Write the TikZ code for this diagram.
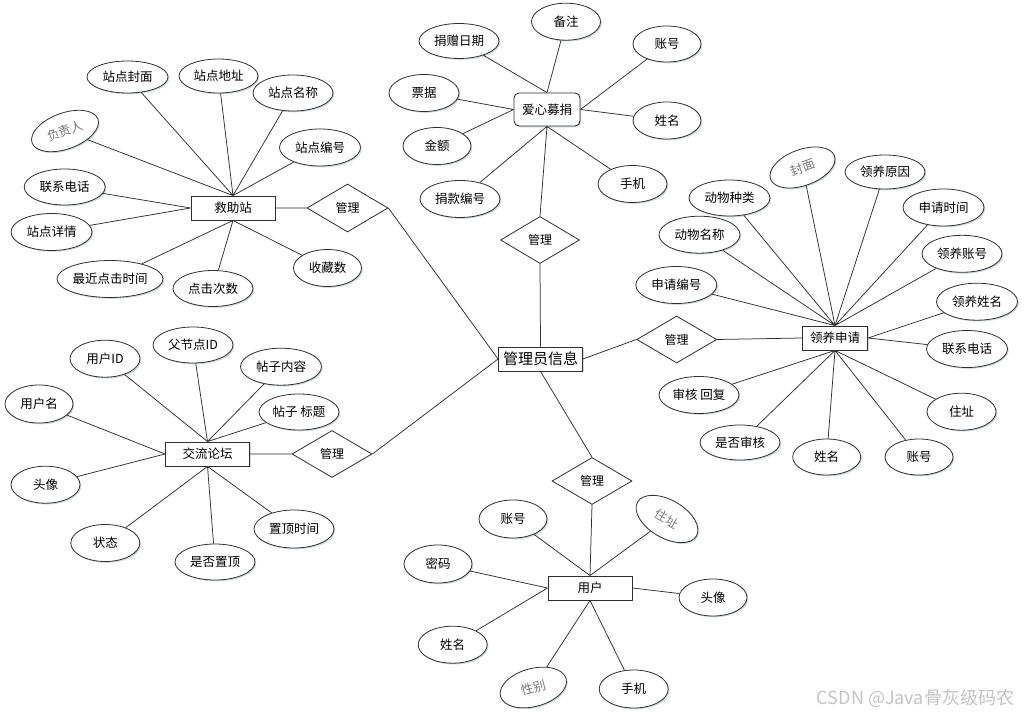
\documentclass[tikz,border=0pt]{standalone}
\usepackage{fontspec}
\setmainfont{Noto Sans CJK SC}
\usetikzlibrary{shapes.geometric,shadows}
\definecolor{edgec}{HTML}{303030}
\definecolor{shc}{HTML}{9AA8B8}
\definecolor{graytxt}{HTML}{7A7A7A}
\definecolor{wmark}{HTML}{C4C4C4}
\tikzset{
  shd/.style={drop shadow={shadow xshift=1.3pt,shadow yshift=-1.3pt,fill=shc,opacity=0.45}},
  attr/.style={ellipse,draw=edgec,line width=0.8pt,fill=white,inner sep=0pt,shd,
    minimum width=80pt,minimum height=36pt,font=\fontsize{12.5}{14}\selectfont},
  sm/.style={minimum width=68pt,minimum height=37pt},
  tilted/.style={text=graytxt},
  ent/.style={rectangle,draw=edgec,line width=0.9pt,fill=white,inner sep=0pt,shd,
    minimum width=84pt,minimum height=24pt,font=\fontsize{12.5}{14}\selectfont},
  rel/.style={diamond,draw=edgec,line width=0.8pt,fill=white,inner sep=0pt,
    minimum width=80pt,minimum height=47pt,font=\fontsize{12}{14}\selectfont},
  link/.style={draw=edgec,line width=0.75pt}
}
\begin{document}
\begin{tikzpicture}[x=1pt,y=-1pt]
\useasboundingbox[fill=white] (0,0) rectangle (1025,717);

% ---------- entities ----------
\node[ent] (jz) at (233,208) {救助站};
\node[ent,minimum width=66pt,minimum height=33pt,rounded corners=5pt] (ax) at (547,109.5) {爱心募捐};
\node[ent,minimum width=65pt] (ly) at (835,338) {领养申请};
\node[ent] (jl) at (207.5,454) {交流论坛};
\node[ent,font=\fontsize{15}{17}\selectfont] (gl) at (540.5,359) {管理员信息};
\node[ent] (yh) at (590,588) {用户};

% ---------- relations ----------
\node[rel,minimum width=81pt,minimum height=48pt] (r1) at (347.5,208) {管理};
\node[rel,minimum width=79pt] (r2) at (540,240) {管理};
\node[rel] (r3) at (676.7,339.5) {管理};
\node[rel] (r4) at (332,454) {管理};
\node[rel] (r5) at (592,481) {管理};

% ---------- 救助站 attributes ----------
\node[attr,minimum width=81pt,minimum height=32pt] (a1) at (127.5,77) {站点封面};
\node[attr,minimum width=79pt,minimum height=34pt] (a2) at (218.5,76) {站点地址};
\node[attr] (a3) at (293,93) {站点名称};
\node[attr,minimum width=81pt,minimum height=37pt] (a4) at (320,147.5) {站点编号};
\node[attr,tilted,minimum width=70pt,minimum height=36pt,rotate=20] (a5) at (65,131) {负责人};
\node[attr,minimum width=81pt] (a6) at (64.7,187) {联系电话};
\node[attr,minimum width=81pt,minimum height=37pt] (a7) at (51.5,232) {站点详情};
\node[attr,minimum width=106pt,minimum height=37pt] (a8) at (110,279) {最近点击时间};
\node[attr] (a9) at (213,288.5) {点击次数};
\node[attr,sm] (a10) at (327.5,268) {收藏数};

% ---------- 爱心募捐 attributes ----------
\node[attr,sm,minimum width=69pt] (b1) at (566,21.7) {备注};
\node[attr,minimum height=35pt] (b2) at (459,41) {捐赠日期};
\node[attr,sm,minimum height=36pt] (b3) at (667,44) {账号};
\node[attr,sm,minimum width=70pt] (b4) at (424,93) {票据};
\node[attr,sm] (b5) at (667,120.5) {姓名};
\node[attr,sm] (b6) at (437,146) {金额};
\node[attr,minimum height=37pt] (b7) at (460,199) {捐款编号};
\node[attr,sm,minimum width=69pt] (b8) at (632.5,184) {手机};

% ---------- 领养申请 attributes ----------
\node[attr,tilted,minimum width=68pt,minimum height=36pt,rotate=20] (c1) at (802.5,167.5) {封面};
\node[attr,minimum height=34pt] (c2) at (885,172) {领养原因};
\node[attr,minimum width=81pt] (c3) at (729.5,198) {动物种类};
\node[attr,minimum width=81pt,minimum height=37pt] (c4) at (943.5,207.5) {申请时间};
\node[attr,minimum width=81pt,minimum height=37pt] (c5) at (699.5,234.7) {动物名称};
\node[attr,minimum height=37pt] (c6) at (962,253.8) {领养账号};
\node[attr,minimum width=81pt,minimum height=37pt] (c7) at (676.3,285) {申请编号};
\node[attr,minimum width=81pt,minimum height=37pt] (c8) at (977,301.7) {领养姓名};
\node[attr,minimum width=81pt,minimum height=37pt] (c9) at (967,349) {联系电话};
\node[attr,minimum height=37pt] (c10) at (699,395) {审核 回复};
\node[attr,sm,minimum width=69pt] (c11) at (961.5,411.7) {住址};
\node[attr,minimum height=35pt] (c12) at (740,442.5) {是否审核};
\node[attr,sm,minimum height=36pt] (c13) at (826.7,457) {姓名};
\node[attr,sm,minimum height=36pt] (c14) at (919,457) {账号};

% ---------- 交流论坛 attributes ----------
\node[attr,sm,minimum width=70pt] (d1) at (105,358.7) {用户ID};
\node[attr] (d2) at (193,345) {父节点ID};
\node[attr,minimum width=81pt,minimum height=37pt] (d3) at (281,366.7) {帖子内容};
\node[attr,sm,minimum height=38pt] (d4) at (39,404) {用户名};
\node[attr] (d5) at (299,412) {帖子 标题};
\node[attr,sm,minimum width=69pt] (d6) at (45.5,484.7) {头像};
\node[attr,minimum height=38pt] (d7) at (294,529) {置顶时间};
\node[attr,sm,minimum width=69pt] (d8) at (105.3,543) {状态};
\node[attr] (d9) at (215,562) {是否置顶};

% ---------- 用户 attributes ----------
\node[attr,sm,minimum height=38pt] (e1) at (513,519) {账号};
\node[attr,tilted,minimum width=68pt,minimum height=38pt,rotate=-30] (e2) at (667,519) {住址};
\node[attr,sm,minimum height=38pt] (e3) at (438,564) {密码};
\node[attr,sm] (e4) at (713,597.5) {头像};
\node[attr,sm,minimum width=69pt] (e5) at (452.7,644.7) {姓名};
\node[attr,tilted,minimum width=68pt,minimum height=38pt,rotate=15] (e6) at (533.3,687.5) {性别};
\node[attr,sm,minimum width=69pt,minimum height=38pt] (e7) at (633.7,689) {手机};

% ---------- connectors (drawn behind) ----------
\begin{scope}[on background layer/.style={}]
\end{scope}
\path[link]
  % relations
  (jz.east) -- (r1.west)  (r1.east) -- (gl.west)
  (ax.south) -- (r2.north)  (r2.south) -- (gl.north)
  (gl.east) -- (r3.west)  (r3.east) -- (ly.west)
  (jl.east) -- (r4.west)  (r4.east) -- (gl.west)
  (gl.south) -- (r5.north)  (r5.south) -- (yh.north)
  % 救助站
  (a1) -- (jz.north) (a2) -- (jz.north) (a3) -- (jz.north) (a4) -- (jz.north)
  (a5) -- (jz.north) (a6) -- (jz.west) (a7) -- (jz.west)
  (a8) -- (jz.south) (a9) -- (jz.south) (a10) -- (jz.south)
  % 爱心募捐
  (b1) -- (ax.north) (b2) -- (ax.north) (b3) -- (ax.east) (b5) -- (ax.east)
  (b4) -- (ax.west) (b6) -- (ax.west) (b7) -- (ax.south) (b8) -- (ax.south)
  % 领养申请
  (c1) -- (ly.north) (c2) -- (ly.north) (c3) -- (ly.north) (c4) -- (ly.north)
  (c5) -- (ly.north) (c6) -- (ly.north) (c7) -- (ly.north)
  (c8) -- (ly.east) (c9) -- (ly.east)
  (c10) -- (ly.south) (c11) -- (ly.south) (c12) -- (ly.south)
  (c13) -- (ly.south) (c14) -- (ly.south)
  % 交流论坛
  (d1) -- (jl.north) (d2) -- (jl.north) (d3) -- (jl.north) (d5) -- (jl.north)
  (d4) -- (jl.west) (d6) -- (jl.west)
  (d7) -- (jl.south) (d8) -- (jl.south) (d9) -- (jl.south)
  % 用户
  (e1) -- (yh.north) (e2) -- (yh.north) (e3) -- (yh.west) (e5) -- (yh.west)
  (e4) -- (yh.east) (e6) -- (yh.south) (e7) -- (yh.south);

% ---------- watermark ----------
\node[text=wmark,font=\fontsize{18}{20}\selectfont,inner sep=0pt] (wm) at (915.5,698) {CSDN @Java骨灰级码农};
\end{tikzpicture}
\end{document}
